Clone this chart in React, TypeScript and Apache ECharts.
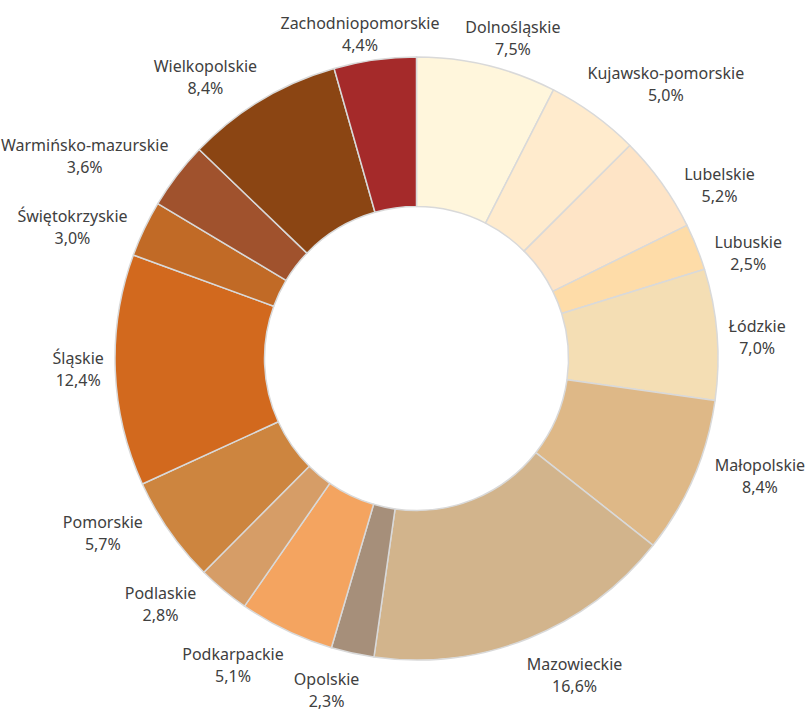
import React, { useEffect, useRef } from 'react';
import * as echarts from 'echarts';

const categories = [
  'Dolnośląskie', 'Kujawsko-pomorskie', 'Lubelskie', 'Lubuskie', 'Łódzkie', 'Małopolskie',
  'Mazowieckie', 'Opolskie', 'Podkarpackie', 'Podlaskie', 'Pomorskie', 'Śląskie',
  'Świętokrzyskie', 'Warmińsko-mazurskie', 'Wielkopolskie', 'Zachodniopomorskie',
];
const values = [7.5, 5.0, 5.2, 2.5, 7.0, 8.4, 16.6, 2.3, 5.1, 2.8, 5.7, 12.4, 3.0, 3.6, 8.4, 4.4];
const colors = [
  '#FFF6DC', '#FFEBCD', '#FEE4C6', '#FEDCA8', '#F4DEB4', '#DEB887',
  '#D2B48C', '#A68F7A', '#F4A460', '#D69D67', '#CD853F', '#D2691E',
  '#C16A26', '#A0522D', '#8B4513', '#A52A2A',
];

const CX = 416.5;
const CY = 358.5;
const R_OUT = 301.5;
const R_IN = 152;
const SKEW = 1.25;

function placeLabel(params: any) {
  const r = params.labelRect;
  const lx = r.x + r.width / 2;
  const ly = r.y + r.height / 2;
  let ux = (lx - CX) * SKEW;
  let uy = ly - CY;
  const len = Math.hypot(ux, uy) || 1;
  ux /= len;
  uy /= len;
  const hw = r.width / 2;
  const hh = r.height / 2 - 4;
  const target = R_OUT + 11 + 6 * uy;
  let lo = 0;
  let hi = 900;
  for (let i = 0; i < 60; i++) {
    const d = (lo + hi) / 2;
    const dx = Math.max(Math.abs(d * ux) - hw, 0);
    const dy = Math.max(Math.abs(d * uy) - hh, 0);
    if (Math.hypot(dx, dy) < target) lo = d;
    else hi = d;
  }
  const d = (lo + hi) / 2;
  return { x: CX + d * ux, y: CY + d * uy };
}

export default function App() {
  const ref = useRef<HTMLDivElement>(null);
  useEffect(() => {
    if (!ref.current) return;
    const chart = echarts.init(ref.current, null, { renderer: 'svg' });
    chart.setOption({
      animation: false,
      backgroundColor: '#ffffff',
      series: [
        {
          type: 'pie',
          center: [CX, CY],
          radius: [R_IN, R_OUT],
          startAngle: 90,
          clockwise: true,
          avoidLabelOverlap: false,
          itemStyle: { borderColor: '#D9D9D9', borderWidth: 1.5 },
          label: {
            show: true,
            position: 'inside',
            color: '#404040',
            fontFamily: 'Noto Sans',
            fontSize: 16,
            lineHeight: 22,
            align: 'center',
            verticalAlign: 'middle',
            formatter: (p: any) => `${p.name}\n${p.value.toFixed(1).replace('.', ',')}%`,
          },
          labelLine: { show: false },
          labelLayout: placeLabel,
          emphasis: { disabled: true },
          data: categories.map((name, i) => ({
            name,
            value: values[i],
            itemStyle: { color: colors[i] },
          })),
        },
      ],
    });
    return () => chart.dispose();
  }, []);
  return (
    <div
      ref={ref}
      style={{ position: 'fixed', left: 0, top: 0, width: 808, height: 715 }}
    />
  );
}
